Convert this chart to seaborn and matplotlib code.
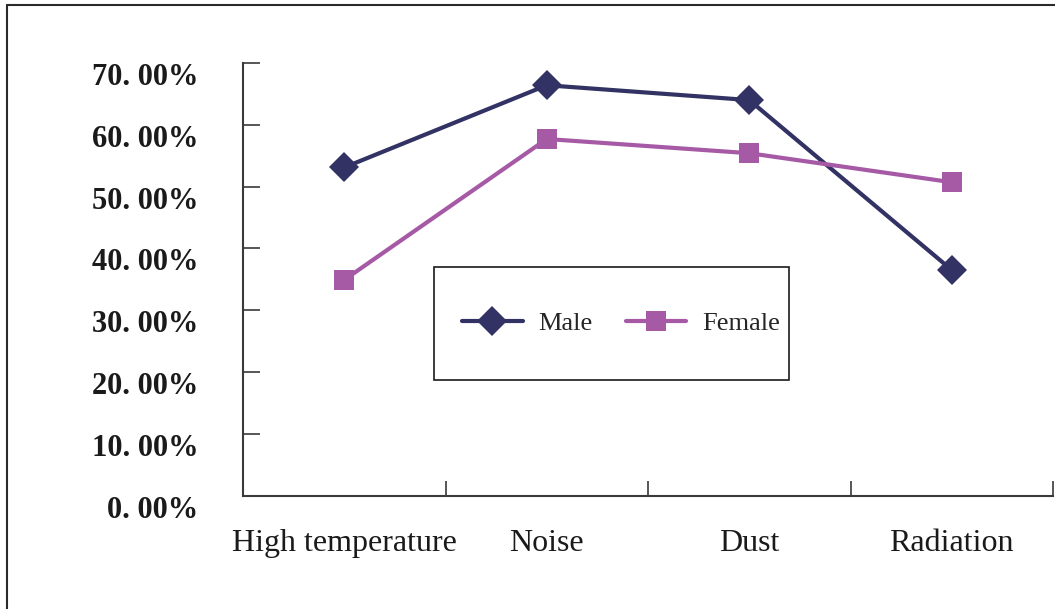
import matplotlib
matplotlib.use("Agg")
import matplotlib.pyplot as plt
import matplotlib.transforms as mtransforms
from matplotlib.lines import Line2D
from matplotlib.patches import Rectangle
import seaborn as sns
import pandas as pd

# Exposure to occupational hazards by sex (%)
categories = ["High temperature", "Noise", "Dust", "Radiation"]
male = [53.1, 66.4, 64.0, 36.5]
female = [34.9, 57.7, 55.4, 50.7]
y_ticks = [0, 10, 20, 30, 40, 50, 60, 70]
y_tick_labels = ["0. 00%", "10. 00%", "20. 00%", "30. 00%",
                 "40. 00%", "50. 00%", "60. 00%", "70. 00%"]

df = pd.DataFrame({
    "category": categories * 2,
    "value": male + female,
    "sex": ["Male"] * len(categories) + ["Female"] * len(categories),
})

sns.set_theme(style="white")
plt.rcParams["font.family"] = ["Liberation Serif", "DejaVu Serif"]

fig = plt.figure(figsize=(10.55, 6.09), dpi=100)
ax = fig.add_axes([243 / 1055, 1 - 495.5 / 609, (1053 - 243) / 1055, (495.5 - 63) / 609])

colors = {"Male": "#323264", "Female": "#A65AA6"}
sns.lineplot(data=df, x="category", y="value", hue="sex", style="sex",
             markers={"Male": "D", "Female": "s"}, dashes=False,
             palette=colors, sort=False, linewidth=3, markersize=15,
             markeredgewidth=0, ax=ax, legend=False)

ax.set_xlim(-0.5, 3.5)
ax.set_ylim(0, 70)
ax.set_xlabel("")
ax.set_ylabel("")

# Spines: only left and bottom
for side in ["top", "right"]:
    ax.spines[side].set_visible(False)
for side in ["left", "bottom"]:
    ax.spines[side].set_color("#3a3a3a")
    ax.spines[side].set_linewidth(1.5)

# Y axis ticks pointing inward, labels shifted slightly below tick
ax.set_yticks(y_ticks)
ax.set_yticklabels(y_tick_labels, fontweight="bold", fontsize=22, color="#1a1a1a")
ax.tick_params(axis="y", direction="in", length=12, width=1.2, color="#3a3a3a", pad=32, left=True)
shift = mtransforms.ScaledTranslation(0, -11 / 100, fig.dpi_scale_trans)
for lab in ax.get_yticklabels():
    lab.set_transform(lab.get_transform() + shift)

# X axis: labels at category centres, tick marks at category boundaries
ax.set_xticks(range(len(categories)))
ax.set_xticklabels(categories, fontsize=23, color="#1a1a1a")
ax.tick_params(axis="x", which="major", length=0, pad=24, bottom=True)
ax.set_xticks([0.5, 1.5, 2.5, 3.5], minor=True)
ax.tick_params(axis="x", which="minor", direction="in", length=11, width=1.2,
               color="#3a3a3a", bottom=True)

# Legend inside a plain rectangular box
fig.add_artist(Rectangle((434 / 1055, 1 - 380 / 609), (789 - 434) / 1055, (380 - 267) / 609,
                         transform=fig.transFigure, fill=False, edgecolor="#1a1a1a", linewidth=1.2))
handles = [
    Line2D([], [], color=colors["Male"], marker="D", markersize=15, markeredgewidth=0, linewidth=3),
    Line2D([], [], color=colors["Female"], marker="s", markersize=15, markeredgewidth=0, linewidth=3),
]
fig.legend(handles, ["Male", "Female"], loc="center", bbox_to_anchor=(621 / 1055, 1 - 323 / 609),
           ncol=2, frameon=False, fontsize=19, handlelength=2.3, handletextpad=0.6,
           columnspacing=1.25)

# Outer figure border (top and left edges)
fig.add_artist(Line2D([7 / 1055, 7 / 1055], [0, 1 - 5 / 609], transform=fig.transFigure,
                      color="#2a2a2a", linewidth=1.5))
fig.add_artist(Line2D([7 / 1055, 1], [1 - 5 / 609, 1 - 5 / 609], transform=fig.transFigure,
                      color="#2a2a2a", linewidth=1.5))

fig.savefig("out.png", dpi=100)
